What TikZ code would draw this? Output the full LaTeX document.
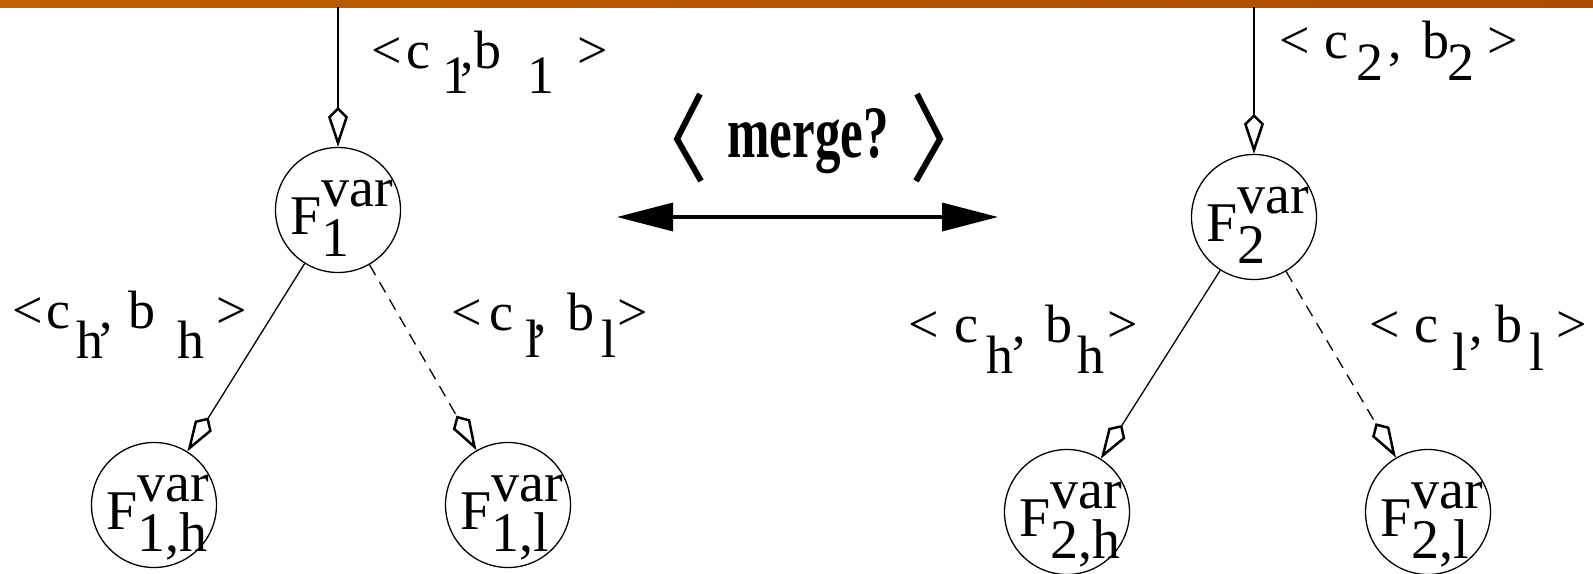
\documentclass[tikz,border=0pt]{standalone}
\usepackage{fontspec}
\setmainfont{Liberation Serif}
\usetikzlibrary{arrows.meta}
% place a piece of a label at an offset from the label's origin, lowered by #2
\newcommand\pc[3]{\rlap{\hspace{#1}\raisebox{-#2}{#3}}}
\newcommand\Fvar[1]{\raisebox{-24pt}[0pt][0pt]{\hspace{8pt}F\rlap{\raisebox{-22pt}{#1}}\raisebox{28pt}{var}}}
\tikzset{
  fnode/.style={circle, draw, line width=1.3pt, minimum size=125pt, inner sep=0pt,
    font=\fontsize{56pt}{60pt}\selectfont},
  elabel/.style={anchor=base west, inner sep=0pt, font=\fontsize{54pt}{58pt}\selectfont},
  kitetip/.style={-{Kite[open, length=40pt, width=20pt, inset=10pt, line width=2.5pt]}},
  inedge/.style={line width=2pt, kitetip},
  hedge/.style={line width=1.3pt, kitetip},
  ledge/.style={line width=1.3pt, dash pattern=on 12pt off 8pt, kitetip},
  bracket/.style={line width=6pt, line cap=butt, line join=miter},
}
\definecolor{barL}{RGB}{192,96,0}
\definecolor{barR}{RGB}{174,76,0}
\begin{document}
\begin{tikzpicture}[x=1pt, y=-1pt]
\useasboundingbox (0,0) rectangle (1593,573);
\shade[left color=barL, right color=barR] (0,0) rectangle (1593,7);

% left tree
\coordinate (t1) at (338,7);
\node[fnode] (F1) at (338,210) {\Fvar{1}};
\node[fnode] (F1h) at (154,505) {\Fvar{1,h}};
\node[fnode] (F1l) at (508,505) {\Fvar{1,l}};
\draw[inedge] (t1) -- (F1);
\draw[hedge] (F1) -- (F1h);
\draw[ledge] (F1) -- (F1l);
\node[elabel] (L1) at (370,68) {\pc{0.5pt}{0pt}{<}\pc{35.6pt}{0pt}{c}\pc{72pt}{25pt}{1}\pc{90pt}{0pt}{,}\pc{104pt}{0pt}{b}\pc{157pt}{25pt}{1}\pc{206.5pt}{0pt}{>}};
\node[elabel] (L3) at (11,328) {\pc{0.5pt}{0pt}{<}\pc{34.6pt}{0pt}{c}\pc{65.3pt}{30pt}{h}\pc{88pt}{0pt}{,}\pc{117pt}{0pt}{b}\pc{166.3pt}{30pt}{h}\pc{204.5pt}{0pt}{>}};
\node[elabel] (L4) at (450,330) {\pc{0.5pt}{0pt}{<}\pc{38.6pt}{0pt}{c}\pc{75pt}{27pt}{l}\pc{83pt}{0pt}{,}\pc{117pt}{0pt}{b}\pc{151pt}{27pt}{l}\pc{166.5pt}{0pt}{>}};

% right tree
\coordinate (t2) at (1254,7);
\node[fnode] (F2) at (1254,217) {\Fvar{2}};
\node[fnode] (F2h) at (1067,512) {\Fvar{2,h}};
\node[fnode] (F2l) at (1428,512) {\Fvar{2,l}};
\draw[inedge] (t2) -- (F2);
\draw[hedge] (F2) -- (F2h);
\draw[ledge] (F2) -- (F2l);
\node[elabel] (L2) at (1278,58) {\pc{0.5pt}{0pt}{<}\pc{45.6pt}{0pt}{c}\pc{77.4pt}{22pt}{2}\pc{110pt}{0pt}{,}\pc{144pt}{0pt}{b}\pc{168.4pt}{22pt}{2}\pc{208.5pt}{0pt}{>}};
\node[elabel] (L5) at (907,342) {\pc{0.5pt}{0pt}{<}\pc{46.6pt}{0pt}{c}\pc{78.3pt}{31pt}{h}\pc{105pt}{0pt}{,}\pc{138pt}{0pt}{b}\pc{169.3pt}{31pt}{h}\pc{199.5pt}{0pt}{>}};
\node[elabel] (L6) at (1368,342) {\pc{0.5pt}{0pt}{<}\pc{45.6pt}{0pt}{c}\pc{84pt}{28pt}{l}\pc{101pt}{0pt}{,}\pc{127pt}{0pt}{b}\pc{161pt}{28pt}{l}\pc{187.5pt}{0pt}{>}};

% merge
\node[anchor=base, inner sep=0pt] (merge) at (808,157) {\scalebox{1}[1.45]{\fontsize{51pt}{56pt}\selectfont\bfseries merge?}};
\draw[bracket] (700,94) -- (677,139) -- (701,181);
\draw[bracket] (917,94) -- (940,139) -- (916,181);
\coordinate (al) at (617,217);
\coordinate (ar) at (998,217);
\draw[line width=3.5pt, {Triangle[length=56pt,width=28pt]}-{Triangle[length=56pt,width=28pt]}] (al) -- (ar);
\end{tikzpicture}
\end{document}
